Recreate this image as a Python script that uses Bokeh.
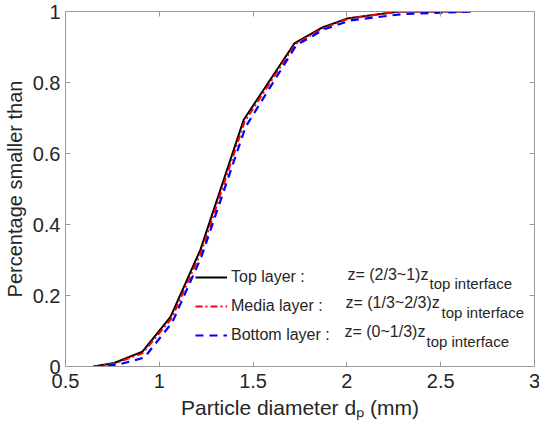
from bokeh.plotting import figure
from bokeh.models import Legend, LegendItem, Label, LinearAxis, FixedTicker, Range1d
from bokeh.embed import file_html
from bokeh.resources import INLINE

# ---- data ----
top_x = [0.65, 0.76, 0.91, 1.06, 1.22, 1.45, 1.72, 1.87, 2.00, 2.28, 2.66]
top_y = [0.0, 0.010, 0.042, 0.140, 0.330, 0.695, 0.910, 0.955, 0.980, 1.000, 1.000]

mid_x = [0.65, 0.76, 0.91, 1.065, 1.225, 1.455, 1.725, 1.87, 2.01, 2.28, 2.66]
mid_y = [0.0, 0.008, 0.037, 0.135, 0.325, 0.690, 0.908, 0.952, 0.980, 1.000, 1.000]

bot_x = [0.65, 0.78, 0.92, 1.07, 1.225, 1.46, 1.73, 1.88, 2.02, 2.30, 2.66]
bot_y = [0.0, 0.005, 0.025, 0.125, 0.310, 0.675, 0.905, 0.950, 0.975, 0.993, 1.000]

x_ticks = [0.5, 1.0, 1.5, 2.0, 2.5, 3.0]
x_tick_labels = ["0.5", "1", "1.5", "2", "2.5", "3"]
y_ticks = [0.0, 0.2, 0.4, 0.6, 0.8, 1.0]
y_tick_labels = ["0", "0.2", "0.4", "0.6", "0.8", "1"]

series_names = ["Top layer :", "Media layer :", "Bottom layer :"]
z_main = ["z= (2/3~1)z", "z= (1/3~2/3)z", "z= (0~1/3)z"]
z_sub = "top interface"
x_title = "Particle diameter d\u209a (mm)"
y_title = "Percentage smaller than"

FONT = "Liberation Sans"
TXT = "#262626"
AX = "#9a9a9a"

p = figure(width=531, height=428, output_backend="svg", toolbar_location=None,
           x_range=Range1d(0.5, 3.0), y_range=Range1d(0.0, 1.0),
           frame_width=469, frame_height=355,
           min_border_left=55, min_border_top=11, min_border_right=7, min_border_bottom=62)
p.outline_line_color = None
p.xgrid.visible = False
p.ygrid.visible = False
p.background_fill_color = "white"

r_top = p.line(top_x, top_y, line_color="black", line_width=2)
r_mid = p.line(mid_x, mid_y, line_color="#ff0000", line_width=2, line_dash="7 3 2 3")
r_bot = p.line(bot_x, bot_y, line_color="#0000ff", line_width=2.2, line_dash="8 6")

def style_axis(ax, show_labels, label_size="21px"):
    ax.axis_line_color = AX
    ax.major_tick_line_color = AX
    ax.minor_tick_line_color = None
    ax.major_tick_in = 5
    ax.major_tick_out = 0
    ax.major_label_text_font = FONT
    ax.major_label_text_font_size = "20px"
    ax.major_label_text_color = TXT
    ax.axis_label_text_font = FONT
    ax.axis_label_text_font_size = label_size
    ax.axis_label_text_font_style = "normal"
    ax.axis_label_text_color = TXT
    if not show_labels:
        ax.major_label_overrides = {t: "" for t in ax.ticker.ticks}

xa = p.xaxis[0]
xa.ticker = FixedTicker(ticks=x_ticks)
xa.major_label_overrides = {t: s for t, s in zip(x_ticks, x_tick_labels)}
xa.major_label_standoff = 7
xa.axis_label = x_title
xa.axis_label_standoff = 5
style_axis(xa, True, "21px")

ya = p.yaxis[0]
ya.ticker = FixedTicker(ticks=y_ticks)
ya.major_label_overrides = {t: s for t, s in zip(y_ticks, y_tick_labels)}
ya.major_label_standoff = 5
ya.axis_label = y_title
ya.axis_label_standoff = 4
style_axis(ya, True, "20px")

top_ax = LinearAxis(ticker=FixedTicker(ticks=x_ticks))
style_axis(top_ax, False)
p.add_layout(top_ax, "above")
right_ax = LinearAxis(ticker=FixedTicker(ticks=y_ticks))
style_axis(right_ax, False)
p.add_layout(right_ax, "right")

legend = Legend(items=[LegendItem(label=series_names[0], renderers=[r_top]),
                       LegendItem(label=series_names[1], renderers=[r_mid]),
                       LegendItem(label=series_names[2], renderers=[r_bot])],
                location=(130, 21), padding=0, margin=0, spacing=9,
                glyph_width=32, glyph_height=20, label_height=20, label_standoff=4,
                label_text_font=FONT, label_text_font_size="16px", label_text_color=TXT,
                border_line_alpha=0, background_fill_alpha=0)
p.add_layout(legend, "center")

main_pos = [(282, 92), (280, 64), (279, 35)]
sub_pos = [(364, 83), (376, 54), (361, 25)]
for t, (mx, my), (sx, sy) in zip(z_main, main_pos, sub_pos):
    p.add_layout(Label(x=mx, y=my, x_units="screen", y_units="screen", text=t,
                       text_font=FONT, text_font_size="16px", text_color=TXT,
                       text_baseline="middle"))
    p.add_layout(Label(x=sx, y=sy, x_units="screen", y_units="screen", text=z_sub,
                       text_font=FONT, text_font_size="15px", text_color=TXT,
                       text_baseline="middle"))

open("out.html", "w").write(file_html(p, INLINE))
